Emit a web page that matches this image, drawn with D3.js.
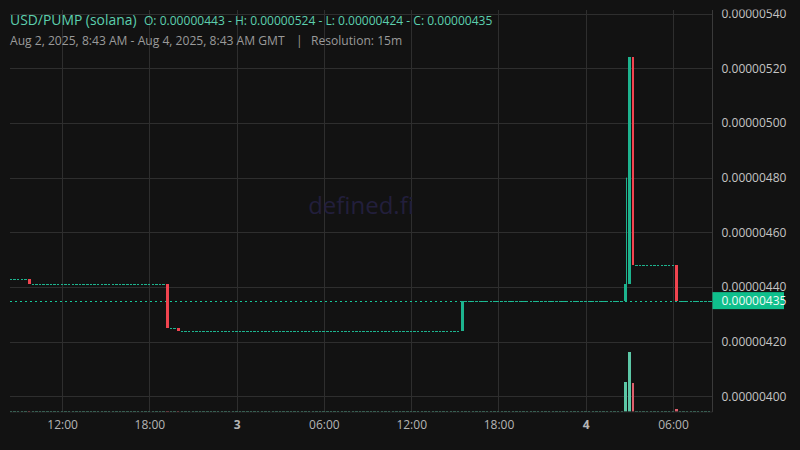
<!DOCTYPE html>
<html>
<head>
<meta charset="utf-8">
<script src="https://cdn.jsdelivr.net/npm/d3@7"></script>
<style>
  html, body { margin: 0; padding: 0; background: #121212; }
  svg { display: block; font-family: "Open Sans", "Noto Sans", sans-serif; }
</style>
</head>
<body>
<svg id="chart" width="800" height="450"></svg>
<script>
// prices are in units of 0.00000001 USD
var PRICE_UNIT = 1e-8;

// 15m candles, first one opens Aug 2 2025 08:30 GMT
var firstCandle = Date.UTC(2025, 7, 2, 8, 30);
var firstOpen = 443;

// close of every candle, 12 per row (3 hours)
var closes = [
  443, 443, 443, 443, 443, 441, 441, 441, 441, 441, 441, 441,
  441, 441, 441, 441, 441, 441, 441, 441, 441, 441, 441, 441,
  441, 441, 441, 441, 441, 441, 441, 441, 441, 441, 441, 441,
  441, 441, 441, 441, 441, 441, 441, 425, 425, 425, 424, 424,
  424, 424, 424, 424, 424, 424, 424, 424, 424, 424, 424, 424,
  424, 424, 424, 424, 424, 424, 424, 424, 424, 424, 424, 424,
  424, 424, 424, 424, 424, 424, 424, 424, 424, 424, 424, 424,
  424, 424, 424, 424, 424, 424, 424, 424, 424, 424, 424, 424,
  424, 424, 424, 424, 424, 424, 424, 424, 424, 424, 424, 424,
  424, 424, 424, 424, 424, 424, 424, 424, 424, 424, 424, 424,
  424, 424, 424, 424, 435, 435, 435, 435, 435, 435, 435, 435,
  435, 435, 435, 435, 435, 435, 435, 435, 435, 435, 435, 435,
  435, 435, 435, 435, 435, 435, 435, 435, 435, 435, 435, 435,
  435, 435, 435, 435, 435, 435, 435, 435, 435, 435, 435, 435,
  435, 441, 524, 448, 448, 448, 448, 448, 448, 448, 448, 448,
  448, 448, 448, 435, 435, 435, 435, 435, 435, 435, 435, 435,
  435
];

// candles whose wick goes past the body
var wickIndex = [169];
var wickHigh = [480];

// visible volume bars (all other candles trade next to nothing)
var volumeIndex = [169, 170, 171, 183];
var volumeValue = [30, 60, 29, 3];

var priceTicks = [400, 420, 440, 460, 480, 500, 520, 540];
var lastPrice = 435;

var timeTicks = [
  Date.UTC(2025, 7, 2, 12), Date.UTC(2025, 7, 2, 18), Date.UTC(2025, 7, 3, 0),
  Date.UTC(2025, 7, 3, 6), Date.UTC(2025, 7, 3, 12), Date.UTC(2025, 7, 3, 18),
  Date.UTC(2025, 7, 4, 0), Date.UTC(2025, 7, 4, 6)
];
var timeLabels = ["12:00", "18:00", "3", "06:00", "12:00", "18:00", "4", "06:00"];

var title = "USD/PUMP (solana)";
var ohlcText = "O: 0.00000443 - H: 0.00000524 - L: 0.00000424 - C: 0.00000435";
var rangeText = "Aug 2, 2025, 8:43 AM - Aug 4, 2025, 8:43 AM GMT";
var resolutionText = "Resolution: 15m";

var upColor = "#1db38e", downColor = "#f0444f";
var upVol = "#5cc7a6", downVol = "#dd5f6c";

var svg = d3.select("#chart");
var plot = { left: 10, right: 712.5, top: 10, bottom: 411.5 };

// build candles
var step = 15 * 60 * 1000;
var candles = closes.map(function (c, i) {
  var o = i === 0 ? firstOpen : closes[i - 1];
  var w = wickIndex.indexOf(i);
  var hi = Math.max(o, c), lo = Math.min(o, c);
  if (w !== -1) hi = wickHigh[w];
  var v = volumeIndex.indexOf(i);
  return { t: firstCandle + i * step, o: o, c: c, h: hi, l: lo, vol: v === -1 ? 0 : volumeValue[v] };
});

var x = d3.scaleUtc()
  .domain([new Date(Date.UTC(2025, 7, 2, 8, 25)), new Date(Date.UTC(2025, 7, 4, 8, 43))])
  .range([plot.left, plot.right]);

var y = d3.scaleLinear()
  .domain([400, 520])
  .range([396.3, 68.3]);

var yVol = d3.scaleLinear()
  .domain([0, 60])
  .range([plot.bottom, plot.bottom - 60]);

svg.append("rect").attr("width", 800).attr("height", 450).attr("fill", "#121212");

var defs = svg.append("defs");
defs.append("clipPath").attr("id", "plotclip")
  .append("rect")
  .attr("x", plot.left).attr("y", plot.top)
  .attr("width", plot.right - plot.left).attr("height", plot.bottom - plot.top);
defs.append("clipPath").attr("id", "axisclip")
  .append("rect")
  .attr("x", plot.right).attr("y", plot.top - 0.5)
  .attr("width", 800 - plot.right).attr("height", 440);

// grid
var grid = svg.append("g").attr("clip-path", "url(#plotclip)");
grid.selectAll("line.h")
  .data(priceTicks)
  .enter().append("line")
  .attr("x1", plot.left).attr("x2", plot.right)
  .attr("y1", function (d) { return Math.round(y(d)) + 0.5; })
  .attr("y2", function (d) { return Math.round(y(d)) + 0.5; })
  .attr("stroke", "#2e2e2e");
grid.selectAll("line.v")
  .data(timeTicks)
  .enter().append("line")
  .attr("y1", plot.top).attr("y2", plot.bottom)
  .attr("x1", function (d) { return Math.round(x(d)) + 0.5; })
  .attr("x2", function (d) { return Math.round(x(d)) + 0.5; })
  .attr("stroke", "#2e2e2e");

// watermark
svg.append("text")
  .attr("x", 361).attr("y", 214)
  .attr("text-anchor", "middle")
  .attr("font-size", 24)
  .attr("fill", "#221f3c")
  .text("defined.fi");

var g = svg.append("g").attr("clip-path", "url(#plotclip)");
var bw = 2.9, dojiW = 2.4;

// volume
g.selectAll("rect.vol")
  .data(candles)
  .enter().append("rect")
  .attr("shape-rendering", "crispEdges")
  .attr("x", function (d) { return x(d.t) - bw / 2; })
  .attr("width", function (d) { return d.vol ? bw : dojiW; })
  .attr("y", function (d) { return Math.min(yVol(d.vol), plot.bottom - 1); })
  .attr("height", function (d) { return Math.max(plot.bottom - yVol(d.vol), 1); })
  .attr("fill", function (d) { return d.c < d.o ? downVol : upVol; });

// last price line
g.append("line")
  .attr("x1", plot.left).attr("x2", plot.right)
  .attr("y1", Math.round(y(lastPrice)) + 0.5).attr("y2", Math.round(y(lastPrice)) + 0.5)
  .attr("stroke", "#16c79a")
  .attr("stroke-dasharray", "2,3");

// wicks
g.selectAll("line.wick")
  .data(candles.filter(function (d) { return d.h > Math.max(d.o, d.c) || d.l < Math.min(d.o, d.c); }))
  .enter().append("line")
  .attr("x1", function (d) { return Math.round(x(d.t)) + 0.5; })
  .attr("x2", function (d) { return Math.round(x(d.t)) + 0.5; })
  .attr("y1", function (d) { return y(d.h); })
  .attr("y2", function (d) { return y(d.l); })
  .attr("stroke", function (d) { return d.c < d.o ? downColor : upColor; });

// bodies
g.selectAll("rect.body")
  .data(candles)
  .enter().append("rect")
  .attr("shape-rendering", "crispEdges")
  .attr("x", function (d) { return x(d.t) - bw / 2; })
  .attr("width", function (d) { return d.o === d.c ? dojiW : bw; })
  .attr("y", function (d) { return y(Math.max(d.o, d.c)); })
  .attr("height", function (d) { return Math.max(Math.abs(y(d.o) - y(d.c)), 1); })
  .attr("fill", function (d) { return d.c < d.o ? downColor : upColor; });

// borders
svg.append("line")
  .attr("x1", plot.right).attr("x2", plot.right)
  .attr("y1", plot.top).attr("y2", plot.bottom + 0.5)
  .attr("stroke", "#3a3a3a");
svg.append("line")
  .attr("x1", plot.left).attr("x2", plot.right)
  .attr("y1", plot.bottom + 0.5).attr("y2", plot.bottom + 0.5)
  .attr("stroke", "#3a3a3a").attr("stroke-opacity", 0.6);

// price axis
var yAxisWrap = svg.append("g").attr("clip-path", "url(#axisclip)");
var yAxis = yAxisWrap.append("g")
  .attr("transform", "translate(" + plot.right + ",0)")
  .call(d3.axisRight(y).tickValues(priceTicks).tickSize(0).tickPadding(9)
    .tickFormat(function (d) { return (d * PRICE_UNIT).toFixed(8); }));
yAxis.select(".domain").remove();
yAxis.selectAll("text").attr("fill", "#c4c4c4").attr("font-size", 12)
  .attr("font-family", "Open Sans, sans-serif");

// last price tag
var tag = svg.append("g").attr("transform", "translate(" + plot.right + "," + y(lastPrice) + ")");
tag.append("rect").attr("x", 0).attr("y", -8.5).attr("width", 71.5).attr("height", 17)
  .attr("fill", "#0fbf8c");
tag.append("text").attr("x", 9).attr("dy", "0.35em")
  .attr("font-size", 12).attr("fill", "#eefaf5")
  .text((lastPrice * PRICE_UNIT).toFixed(8));

// time axis
var xAxis = svg.append("g")
  .attr("transform", "translate(0," + plot.bottom + ")")
  .call(d3.axisBottom(x).tickValues(timeTicks.map(function (t) { return new Date(t); }))
    .tickSize(0).tickPadding(9)
    .tickFormat(function (d, i) { return timeLabels[i]; }));
xAxis.select(".domain").remove();
xAxis.selectAll("text").attr("fill", "#b5b5b5").attr("font-size", 12)
  .attr("font-family", "Open Sans, sans-serif")
  .attr("font-weight", function (d, i) { return timeLabels[i].length === 1 ? "bold" : "normal"; });

// header
var head = svg.append("g");
head.append("text").attr("x", 10).attr("y", 25).attr("font-size", 13.9)
  .attr("fill", "#5ccfae").text(title);
head.append("text").attr("x", 144).attr("y", 25).attr("font-size", 12.05)
  .attr("fill", "#5ccfae").text(ohlcText);
head.append("text").attr("x", 10).attr("y", 45).attr("font-size", 12.1)
  .attr("fill", "#9a9a9a").text(rangeText);
head.append("text").attr("x", 296).attr("y", 45).attr("font-size", 12.1)
  .attr("fill", "#9a9a9a").text("|");
head.append("text").attr("x", 311).attr("y", 45).attr("font-size", 12.1)
  .attr("fill", "#9a9a9a").text(resolutionText);
</script>
</body>
</html>
